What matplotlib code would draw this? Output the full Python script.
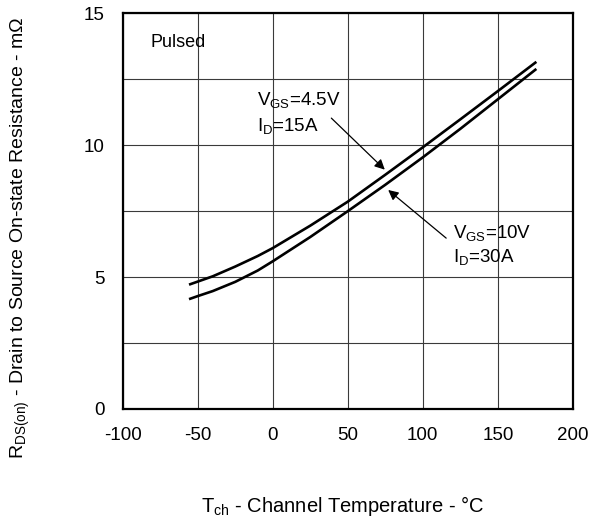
import matplotlib
matplotlib.use('Agg')
import matplotlib.pyplot as plt

plt.rcParams['font.family'] = ['Liberation Sans', 'DejaVu Sans']
plt.rcParams['mathtext.fontset'] = 'custom'
plt.rcParams['mathtext.rm'] = 'Liberation Sans'
plt.rcParams['mathtext.it'] = 'Liberation Sans'
plt.rcParams['axes.unicode_minus'] = False

# Temperatura de canal (°C) y resistencia RDS(on) (mOhm)
temp = [-55, -50, -40, -25, -10, 0, 25, 50, 75, 100, 125, 150, 175]
rds_45v = [4.73, 4.83, 5.03, 5.40, 5.80, 6.10, 6.95, 7.86, 8.88, 9.92, 10.98, 12.05, 13.13]
rds_10v = [4.18, 4.28, 4.47, 4.82, 5.25, 5.60, 6.52, 7.50, 8.50, 9.54, 10.62, 11.74, 12.86]

x_ticks = [-100, -50, 0, 50, 100, 150, 200]
y_ticks = [0, 5, 10, 15]

fig = plt.figure(figsize=(5.93, 5.22), dpi=100)
ax = fig.add_axes([0.207, 0.2165, 0.759, 0.758])

ax.plot(temp, rds_45v, color='black', lw=1.9)
ax.plot(temp, rds_10v, color='black', lw=1.9)

ax.set_xlim(-100, 200)
ax.set_ylim(0, 15)
ax.set_xticks(x_ticks)
ax.set_yticks(y_ticks)
ax.set_yticks([2.5, 7.5, 12.5], minor=True)
ax.grid(True, which='both', color='#3a3a3a', lw=0.8)
ax.tick_params(which='both', length=0, labelsize=13.5)
ax.tick_params(axis='x', pad=13)
ax.tick_params(axis='y', pad=13)
for s in ax.spines.values():
    s.set_linewidth(1.6)

ax.text(-81.8, 13.9, 'Pulsed', fontsize=13, va='center')

ax.annotate('', xy=(76, 9.0), xytext=(37.7, 11.1),
            arrowprops=dict(arrowstyle='-|>', color='black', lw=0.9, mutation_scale=15))
ax.annotate('', xy=(75.5, 8.37), xytext=(117, 6.41),
            arrowprops=dict(arrowstyle='-|>', color='black', lw=0.9, mutation_scale=15))

ax.text(-10.7, 11.71, r'$\mathregular{V_{GS}}$=4.5V', fontsize=13.5, va='center')
ax.text(-10.7, 10.73, r'$\mathregular{I_{D}}$=15A', fontsize=13.5, va='center')
ax.text(120.4, 6.68, r'$\mathregular{V_{GS}}$=10V', fontsize=13.5, va='center')
ax.text(120.4, 5.75, r'$\mathregular{I_{D}}$=30A', fontsize=13.5, va='center')

fig.text(0.578, 0.03, r'$\mathregular{T_{ch}}$ - Channel Temperature - °C', fontsize=14.5,
         ha='center', va='center')
fig.text(0.035, 0.545, r'$\mathregular{R_{DS(on)}}$ - Drain to Source On-state Resistance - mΩ',
         fontsize=14, ha='center', va='center', rotation=90)

fig.savefig('out.png', dpi=100)
